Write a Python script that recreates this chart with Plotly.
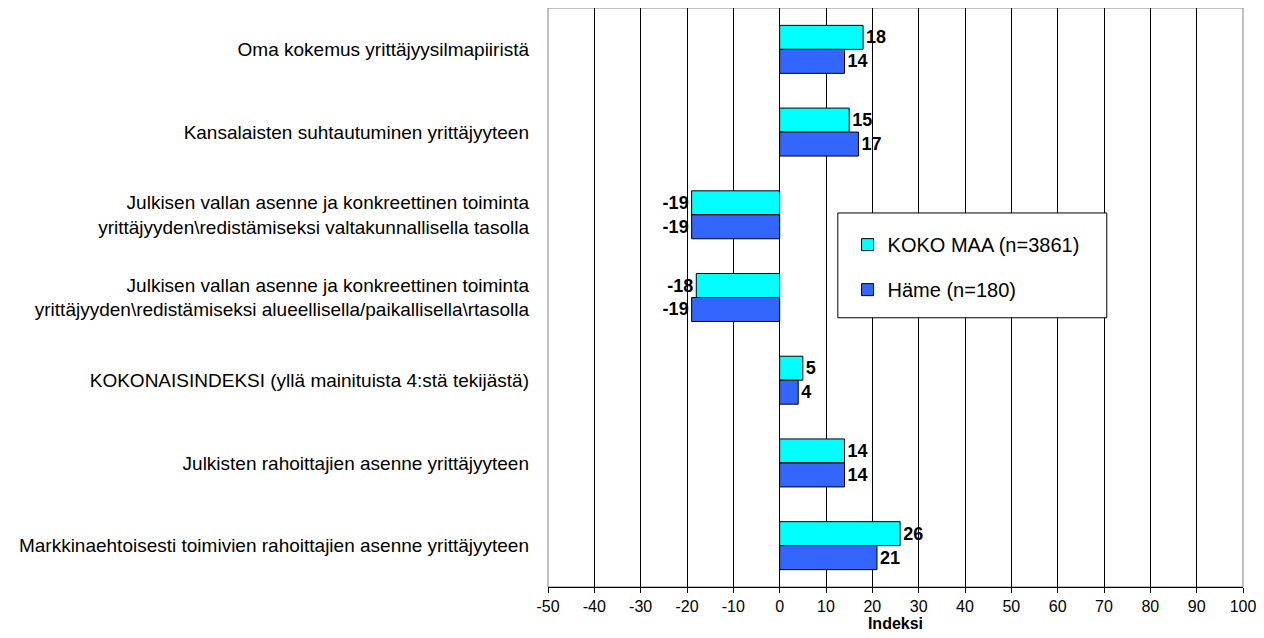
import plotly.graph_objects as go

categories = [
    "Oma kokemus yrittäjyysilmapiiristä",
    "Kansalaisten suhtautuminen yrittäjyyteen",
    "Julkisen vallan asenne ja konkreettinen toiminta<br>yrittäjyyden\\redistämiseksi valtakunnallisella tasolla",
    "Julkisen vallan asenne ja konkreettinen toiminta<br>yrittäjyyden\\redistämiseksi alueellisella/paikallisella\\rtasolla",
    "KOKONAISINDEKSI (yllä mainituista 4:stä tekijästä)",
    "Julkisten rahoittajien asenne yrittäjyyteen",
    "Markkinaehtoisesti toimivien rahoittajien asenne yrittäjyyteen",
]
koko_maa = [18, 15, -19, -18, 5, 14, 26]
hame = [14, 17, -19, -19, 4, 14, 21]
series_names = ["KOKO MAA (n=3861)", "Häme (n=180)"]
x_ticks = list(range(-50, 101, 10))

FONT = "Liberation Sans, Arial, sans-serif"

fig = go.Figure()
for i, (name, vals, color) in enumerate(
    [(series_names[0], koko_maa, "#00FFFF"), (series_names[1], hame, "#3366FF")]
):
    fig.add_trace(
        go.Bar(
            y=categories,
            x=vals,
            orientation="h",
            name=name,
            legendgroup=str(i),
            marker=dict(color=color, line=dict(color="#000000", width=1)),
            text=[str(v) for v in vals],
            textposition="outside",
            textfont=dict(family=FONT, size=18, color="#000000", weight="bold"),
            cliponaxis=False,
        )
    )

# frame of plot area
fig.add_shape(type="rect", xref="paper", yref="paper", x0=0, x1=1, y0=0, y1=1,
              line=dict(color="#808080", width=1), layer="below")
# legend box
fig.add_shape(type="rect", xref="paper", yref="paper", x0=0.417, x1=0.804,
              y0=0.465, y1=0.646, line=dict(color="#000000", width=1),
              fillcolor="#FFFFFF", layer="above")

# page body has an 8px margin, so the figure is a bit smaller than the window
fig.update_layout(
    width=1256,
    height=630,
    margin=dict(l=540, r=21, t=0, b=51),
    paper_bgcolor="#FFFFFF",
    plot_bgcolor="#FFFFFF",
    barmode="group",
    bargap=0.42,
    bargroupgap=0,
    font=dict(family=FONT, color="#000000"),
    showlegend=True,
    legend=dict(
        x=0.431, y=0.625, xanchor="left", yanchor="top",
        bgcolor="rgba(0,0,0,0)", borderwidth=0,
        font=dict(family=FONT, size=20, color="#000000"),
        tracegroupgap=16, traceorder="grouped",
    ),
    xaxis=dict(
        range=[-50, 100],
        tickvals=x_ticks,
        ticktext=[str(t) for t in x_ticks],
        ticks="outside", ticklen=5, tickcolor="#000000",
        showgrid=True, gridcolor="#000000", gridwidth=1,
        zeroline=False,
        showline=True, linecolor="#000000", linewidth=1,
        tickfont=dict(family=FONT, size=16),
        title=dict(text="<b>Indeksi</b>", font=dict(family=FONT, size=16), standoff=0),
    ),
    yaxis=dict(
        autorange="reversed",
        showgrid=False, zeroline=False, showline=False, ticks="",
        tickfont=dict(family=FONT, size=19),
        ticklabelstandoff=18,
    ),
    yaxis2=dict(
        overlaying="y", anchor="free", position=1 / 3, side="left",
        range=[6.5, -0.5],
        tickvals=[k - 0.5 for k in range(8)],
        ticks="outside", ticklen=5, tickwidth=3, tickcolor="#000000",
        showticklabels=False, showgrid=False, zeroline=False,
        showline=True, linecolor="#000000", linewidth=3,
    ),
)

fig.write_html("out.html")
